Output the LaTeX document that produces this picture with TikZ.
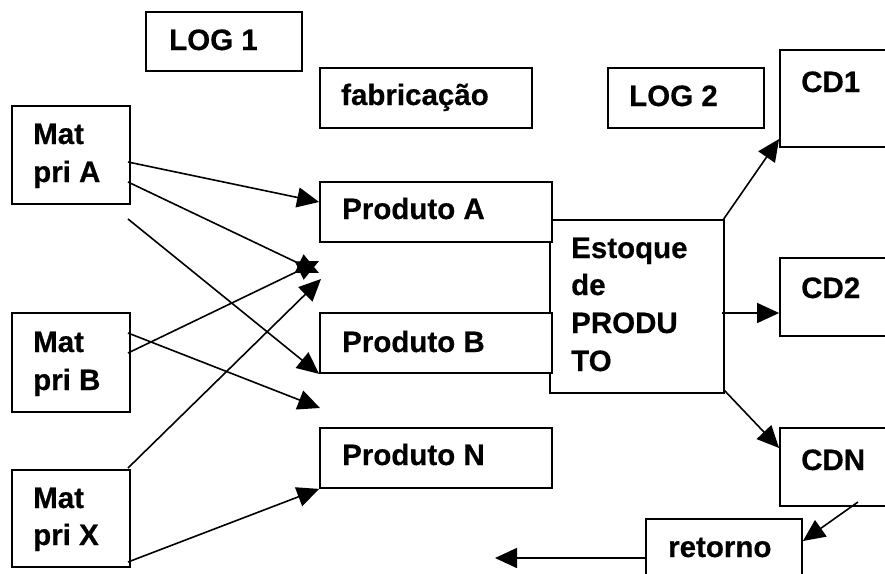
\documentclass[tikz,border=0pt]{standalone}
\usepackage{fontspec}
\setmainfont{Liberation Sans}
\newfontfamily\bfam[FakeBold=0.5]{Liberation Sans Bold}
\usetikzlibrary{arrows.meta}
\begin{document}
\begin{tikzpicture}[x=1pt,y=-1pt,
  box/.style={draw=black,fill=white,line width=1.8pt,rectangle,inner sep=0pt},
  txt/.style={anchor=base west,inner sep=0pt,font=\bfam\fontsize{29.5}{36}\selectfont},
  arr/.style={line width=1.6pt,-{Triangle[length=22pt,width=20pt]}},
  ln/.style={line width=1.6pt}]
\useasboundingbox (0,0) rectangle (885,573);
\clip (0,0) rectangle (885,573);
\fill[white] (0,0) rectangle (885,573);
% boxes
\node[box,minimum width=156,minimum height=59] (log1) at (224,41.5) {};
\node[box,minimum width=212,minimum height=60] (fab) at (426,98) {};
\node[box,minimum width=156,minimum height=60] (log2) at (686,98) {};
\node[box,minimum width=130,minimum height=97] (cd1) at (845,98.5) {};
\node[box,minimum width=118,minimum height=98] (matA) at (71,155) {};
\node[box,minimum width=174,minimum height=173] (est) at (637,306.5) {};
\node[box,minimum width=232,minimum height=60] (pa) at (436,212) {};
\node[box,minimum width=232,minimum height=60] (pb) at (436,343) {};
\node[box,minimum width=232,minimum height=60] (pn) at (436,458) {};
\node[box,minimum width=118,minimum height=99] (matB) at (71,362.5) {};
\node[box,minimum width=118,minimum height=97] (matX) at (71,518.5) {};
\node[box,minimum width=130,minimum height=78] (cd2) at (845,297) {};
\node[box,minimum width=130,minimum height=78] (cdn) at (845,467) {};
\node[box,minimum width=156,minimum height=81] (ret) at (724,559.5) {};
% texts
\node[txt] (tlog1) at (169,50) {LOG 1};
\node[txt] (tfab) at (341,105) {fabricação};
\node[txt] (tlog2) at (629,106) {LOG 2};
\node[txt] (tcd1) at (801,92) {CD1};
\node[txt] (tmatA1) at (33,144) {Mat};
\node[txt] (tmatA2) at (33,182) {pri A};
\node[txt] (tpa) at (342,219) {Produto A};
\node[txt] (test1) at (571,258) {Estoque};
\node[txt] (test2) at (571,295) {de};
\node[txt] (test3) at (571,333) {PRODU};
\node[txt] (test4) at (571,371) {TO};
\node[txt] (tpb) at (342,352) {Produto B};
\node[txt] (tpn) at (342,465) {Produto N};
\node[txt] (tmatB1) at (33,352) {Mat};
\node[txt] (tmatB2) at (33,390) {pri B};
\node[txt] (tmatX1) at (33,508) {Mat};
\node[txt] (tmatX2) at (33,545) {pri X};
\node[txt] (tcd2) at (801,298) {CD2};
\node[txt] (tcdn) at (801,470) {CDN};
\node[txt] (tret) at (668,557) {retorno};
% connector end points
\coordinate (a1) at (128,162);
\coordinate (a2) at (128,182);
\coordinate (a3) at (128,219);
\coordinate (b1) at (128,333);
\coordinate (b2) at (128,353);
\coordinate (x1) at (128,468);
\coordinate (x2) at (128,562);
\coordinate (hubA) at (319,273);
\coordinate (hubB) at (319,261);
\coordinate (hubX) at (321,279);
\coordinate (gapBN) at (320,408);
\coordinate (e1) at (723,220);
\coordinate (e2) at (722,313);
\coordinate (e3) at (724,390);
\coordinate (cdnOut) at (858,502);
\coordinate (retOut) at (495,558);
% connectors
\draw[arr] (a1) -- (pa.west |- 0,202);
\draw[arr] (a2) -- (hubA);
\draw[arr] (a3) -- (pb.south west);
\draw[arr] (b1) -- (gapBN);
\draw[arr] (b2) -- (hubB);
\draw[arr] (x1) -- (hubX);
\draw[arr] (x2) -- (pn.south west);
\draw[arr] (e1) -- (cd1.west |- 0,139);
\draw[arr] (e2) -- (cd2.west |- e2);
\draw[arr] (e3) -- (cdn.west |- 0,448);
\draw[arr] (cdnOut) -- (ret.east |- 0,541);
\draw[arr] (ret.west |- retOut) -- (retOut);
\end{tikzpicture}
\end{document}
